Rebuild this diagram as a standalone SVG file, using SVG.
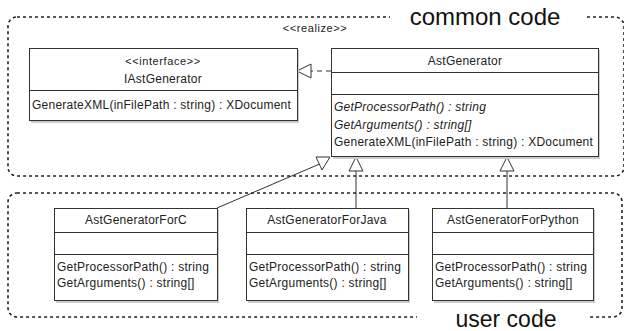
<svg xmlns="http://www.w3.org/2000/svg" width="624" height="331" viewBox="0 0 624 331">
<defs>
<style>
text{font-family:"Liberation Sans",Arial,sans-serif;font-size:12px;letter-spacing:0.25px;fill:#222}
.c{text-anchor:middle}
.i{font-style:italic}
.box{fill:#fff;stroke:#333;stroke-width:1}
.sh{fill:#ccc;stroke:none}
.ln{stroke:#333;stroke-width:1;fill:none}
.frame{fill:none;stroke:#222;stroke-width:1.6;stroke-dasharray:3 3}
.big{font-size:24px;letter-spacing:0;fill:#111}
.big2{font-size:23px;letter-spacing:0;fill:#111}
.st{font-size:11px;letter-spacing:0.6px}
.tri{fill:#fff;stroke:#333;stroke-width:1}
</style>
</defs>
<rect width="624" height="331" fill="#fff"/>
<g id="frame-common">
<rect class="frame" x="8" y="17" width="616" height="159" rx="9"/>
<rect x="390" y="8" width="197" height="20" fill="#fff"/>
<text class="big c" x="485" y="25">common code</text>
</g>
<g id="frame-user">
<rect class="frame" x="8" y="193" width="614" height="124" rx="9"/>
<rect x="417" y="308" width="173" height="23" fill="#fff"/>
<text class="big2 c" x="506" y="327">user code</text>
</g>
<g id="connectors">
<line class="ln" x1="331" y1="71" x2="311" y2="71" stroke-dasharray="5 4"/>
<polygon class="tri" points="297,71 311,64 311,78"/>
<text class="st c" x="315" y="32">&lt;&lt;realize&gt;&gt;</text>
<line class="ln" x1="217" y1="208" x2="322" y2="163"/>
<polygon class="tri" points="330,157 316,157 322,170"/>
<line class="ln" x1="356" y1="208" x2="356" y2="171"/>
<polygon class="tri" points="356,157 349,171 363,171"/>
<line class="ln" x1="507" y1="208" x2="507" y2="171"/>
<polygon class="tri" points="507,157 500,171 514,171"/>
</g>
<g id="IAstGenerator">
<rect class="sh" x="31" y="50" width="268" height="73"/>
<rect class="box" x="29.5" y="48.5" width="268" height="72"/>
<line class="ln" x1="29.5" y1="90.5" x2="297.5" y2="90.5"/>
<text class="st c" x="163" y="65">&lt;&lt;interface&gt;&gt;</text>
<text class="c" x="163" y="83">IAstGenerator</text>
<text x="32" y="109">GenerateXML(inFilePath : string) : XDocument</text>
</g>
<g id="AstGenerator">
<rect class="sh" x="333" y="50" width="267" height="109"/>
<rect class="box" x="331.5" y="48.5" width="267" height="108"/>
<line class="ln" x1="331.5" y1="72.5" x2="598.5" y2="72.5"/>
<line class="ln" x1="331.5" y1="94.5" x2="598.5" y2="94.5"/>
<text class="c" x="465" y="65">AstGenerator</text>
<text class="i" x="334" y="111">GetProcessorPath() : string</text>
<text class="i" x="334" y="129">GetArguments() : string[]</text>
<text x="334" y="146">GenerateXML(inFilePath : string) : XDocument</text>
</g>
<g id="AstGeneratorForC">
<rect class="sh" x="56" y="210" width="163" height="93"/>
<rect class="box" x="54.5" y="208.5" width="163" height="92"/>
<line class="ln" x1="54.5" y1="232.5" x2="217.5" y2="232.5"/>
<line class="ln" x1="54.5" y1="254.5" x2="217.5" y2="254.5"/>
<text class="c" x="136" y="224">AstGeneratorForC</text>
<text x="57" y="271">GetProcessorPath() : string</text>
<text x="57" y="287">GetArguments() : string[]</text>
</g>
<g id="AstGeneratorForJava">
<rect class="sh" x="248" y="210" width="162" height="93"/>
<rect class="box" x="246.5" y="208.5" width="162" height="92"/>
<line class="ln" x1="246.5" y1="232.5" x2="408.5" y2="232.5"/>
<line class="ln" x1="246.5" y1="254.5" x2="408.5" y2="254.5"/>
<text class="c" x="327" y="224">AstGeneratorForJava</text>
<text x="249" y="271">GetProcessorPath() : string</text>
<text x="249" y="287">GetArguments() : string[]</text>
</g>
<g id="AstGeneratorForPython">
<rect class="sh" x="434" y="210" width="161" height="93"/>
<rect class="box" x="432.5" y="208.5" width="161" height="92"/>
<line class="ln" x1="432.5" y1="232.5" x2="593.5" y2="232.5"/>
<line class="ln" x1="432.5" y1="254.5" x2="593.5" y2="254.5"/>
<text class="c" x="513" y="224">AstGeneratorForPython</text>
<text x="435" y="271">GetProcessorPath() : string</text>
<text x="435" y="287">GetArguments() : string[]</text>
</g>
</svg>
